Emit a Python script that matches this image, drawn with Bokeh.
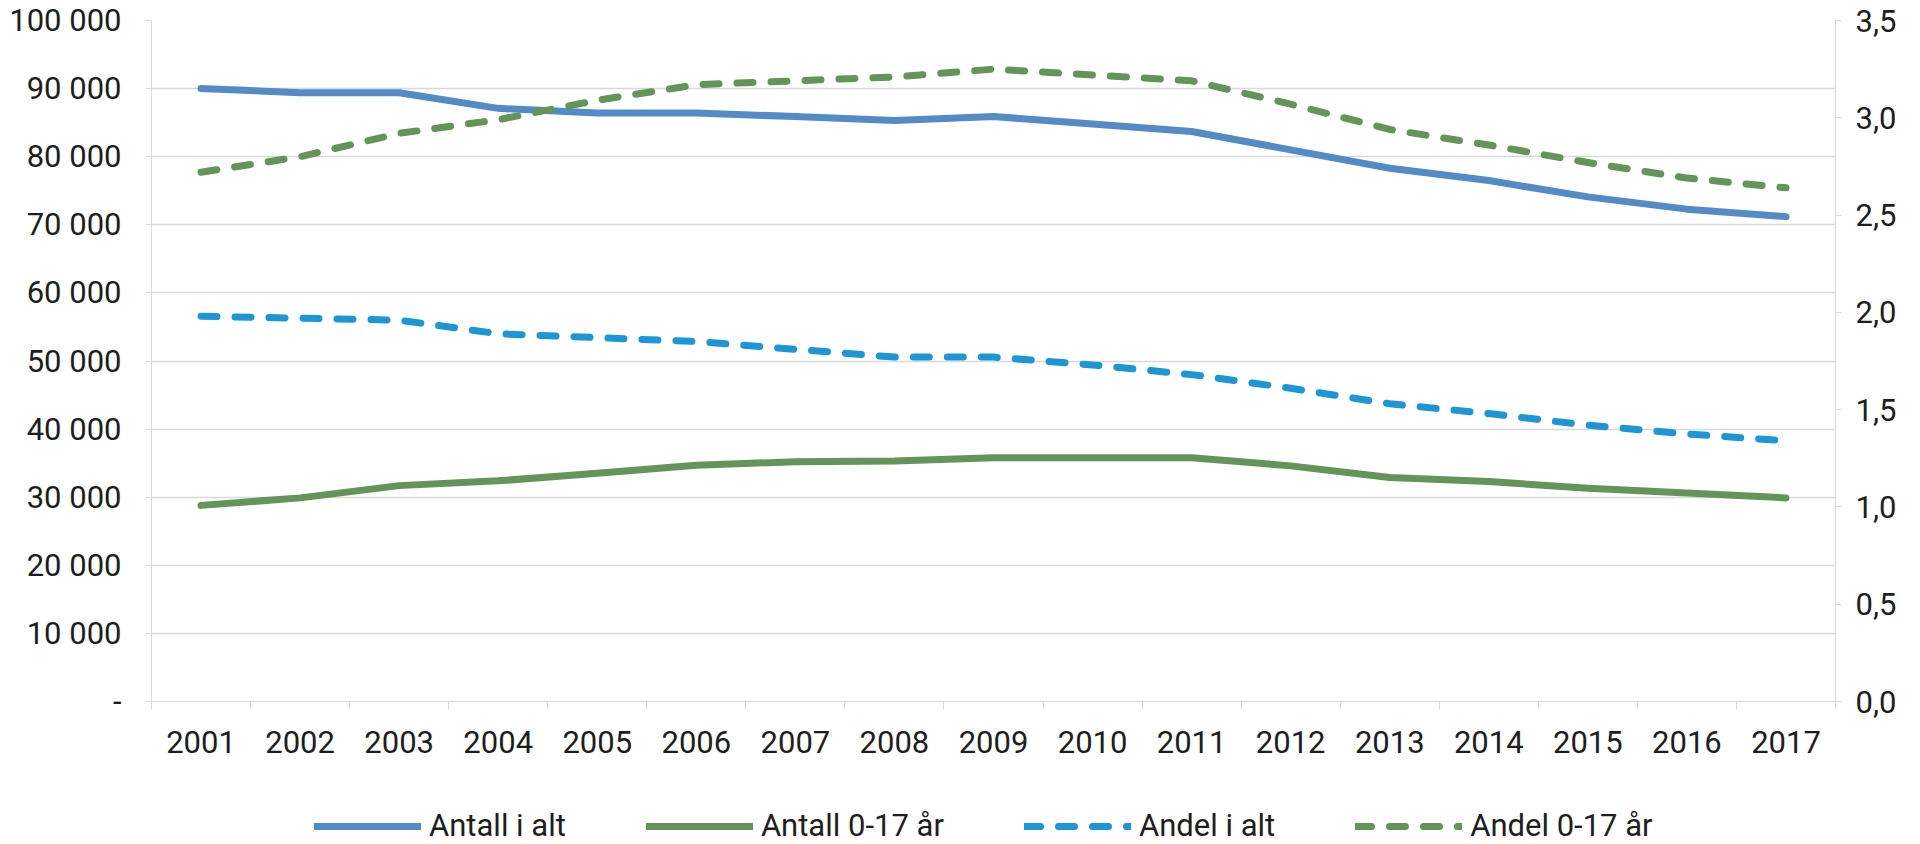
from bokeh.plotting import figure
from bokeh.models import Range1d, LinearAxis, FixedTicker, Legend, LegendItem
from bokeh.layouts import column
from bokeh.embed import file_html
from bokeh.resources import INLINE

years = list(range(2001, 2018))
antall_alt = [90000, 89400, 89400, 87100, 86400, 86400, 85900, 85300, 85900,
              84800, 83700, 81000, 78300, 76500, 74100, 72300, 71200]
antall_017 = [28800, 29900, 31700, 32400, 33500, 34700, 35200, 35300, 35800,
              35800, 35800, 34600, 32900, 32300, 31300, 30600, 29900]
andel_alt = [1.98, 1.97, 1.96, 1.89, 1.87, 1.85, 1.81, 1.77, 1.77,
             1.73, 1.68, 1.61, 1.53, 1.48, 1.42, 1.375, 1.34]
andel_017 = [2.72, 2.80, 2.92, 2.99, 3.09, 3.17, 3.19, 3.21, 3.25,
             3.22, 3.19, 3.07, 2.94, 2.86, 2.77, 2.69, 2.64]

left_ticks = list(range(0, 100001, 10000))
left_labels = ["-"] + [f"{v // 1000} 000" for v in left_ticks[1:]]
right_ticks = [0, 0.5, 1.0, 1.5, 2.0, 2.5, 3.0, 3.5]
right_labels = ["0,0", "0,5", "1,0", "1,5", "2,0", "2,5", "3,0", "3,5"]
series_names = ["Antall i alt", "Antall 0-17 år", "Andel i alt", "Andel 0-17 år"]
series_values = [antall_alt, antall_017, andel_alt, andel_017]

FONT = "Roboto"
FS = "31px"
TXT = "#1e1e1e"
GRID = "#d9d9d9"
C_BLUE = "#528bc5"
C_GREEN = "#629557"
C_LBLUE = "#1c96d5"
STYLES = [dict(color=C_BLUE), dict(color=C_GREEN),
          dict(color=C_LBLUE, line_dash="16 18"), dict(color=C_GREEN, line_dash="16 18")]
common = dict(line_width=7, line_cap="round", line_join="round")

p = figure(frame_width=1684, frame_height=681, output_backend="svg", toolbar_location=None,
           x_range=Range1d(2000.5, 2017.5), y_range=Range1d(0, 100000),
           min_border_left=151, min_border_right=0, min_border_top=20,
           min_border_bottom=62)
p.extra_y_ranges = {"pct": Range1d(0, 3.5)}
p.outline_line_color = None
p.background_fill_color = "white"
p.border_fill_color = "white"

# x axis
xa = p.xaxis[0]
xa.ticker = FixedTicker(ticks=years, minor_ticks=[2000.5 + i for i in range(18)])
xa.major_label_overrides = {y: str(y) for y in years}
xa.major_tick_out = 0
xa.major_tick_in = 0
xa.minor_tick_out = 8
xa.minor_tick_in = 0
xa.minor_tick_line_color = GRID
xa.axis_line_color = GRID
xa.major_label_standoff = 21

# left y axis
ya = p.yaxis[0]
ya.ticker = FixedTicker(ticks=left_ticks)
ya.major_label_overrides = dict(zip(left_ticks, left_labels))
ya.major_tick_out = 6
ya.major_tick_in = 0
ya.minor_tick_line_color = None
ya.major_tick_line_color = GRID
ya.axis_line_color = GRID
ya.major_label_standoff = 24

# right y axis
ra = LinearAxis(y_range_name="pct", ticker=FixedTicker(ticks=right_ticks))
ra.major_label_overrides = dict(zip(right_ticks, right_labels))
ra.major_tick_out = 6
ra.major_tick_in = 0
ra.minor_tick_line_color = None
ra.major_tick_line_color = GRID
ra.axis_line_color = GRID
ra.major_label_standoff = 14
p.add_layout(ra, "right")

for ax in (xa, ya, ra):
    ax.major_label_text_font = FONT
    ax.major_label_text_font_size = FS
    ax.major_label_text_color = TXT

p.xgrid.visible = False
p.ygrid.grid_line_color = GRID
p.ygrid.grid_line_width = 1.5

p.line(years, antall_alt, **STYLES[0], **common)
p.line(years, antall_017, **STYLES[1], **common)
p.line(years, andel_alt, y_range_name="pct", **STYLES[2], **common)
p.line(years, andel_017, y_range_name="pct", **STYLES[3], **common)

# legend strip below the chart (its line renderers lie outside its visible range)
p2 = figure(frame_width=1684, frame_height=81, output_backend="svg", toolbar_location=None,
            x_range=Range1d(0, 1), y_range=Range1d(0, 1),
            x_axis_type=None, y_axis_type=None,
            min_border_left=151, min_border_right=61, min_border_top=0, min_border_bottom=0)
p2.outline_line_color = None
p2.xgrid.visible = False
p2.ygrid.visible = False
p2.border_fill_color = "white"

legend_renderers = [p2.line(years, vals, **s, **common)
                    for vals, s in zip(series_values, STYLES)]
legend = Legend(items=[LegendItem(label=n, renderers=[r]) for n, r in
                       zip(series_names, legend_renderers)],
                orientation="horizontal", location=(163, 0),
                glyph_width=107, glyph_height=30, label_standoff=8, spacing=80,
                label_text_font=FONT, label_text_font_size=FS, label_text_color=TXT,
                border_line_color=None, background_fill_alpha=0,
                padding=0, margin=0)
p2.add_layout(legend)

layout = column(p, p2, spacing=0)
open("out.html", "w").write(file_html(layout, INLINE))
